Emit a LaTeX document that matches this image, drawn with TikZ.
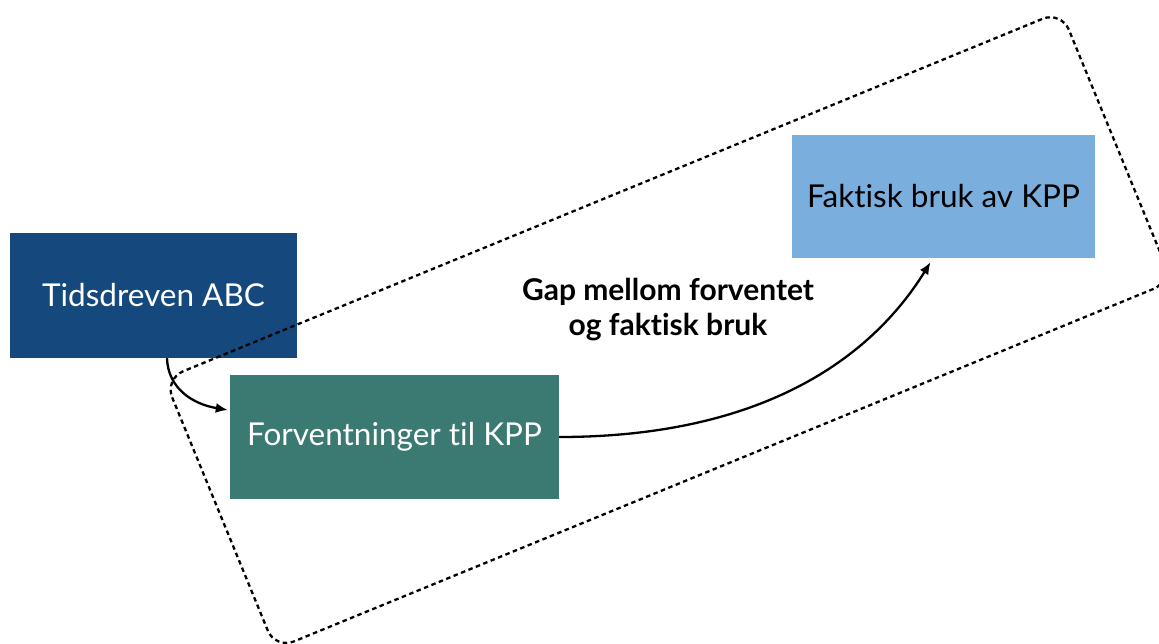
\documentclass[tikz,border=0pt]{standalone}
\usepackage{fontspec}
\setmainfont{Lato}[Ligatures=NoCommon]
\usetikzlibrary{arrows.meta,calc}
\definecolor{navy}{RGB}{21,72,124}
\definecolor{teal}{RGB}{58,122,115}
\definecolor{sky}{RGB}{121,174,221}
\tikzset{
  box/.style={draw=none, inner sep=0pt, align=center, font=\fontsize{31.5}{36}\selectfont},
  flow/.style={line width=2.3pt, -{Latex[length=12pt,width=10pt]}},
  zone/.style={line width=2.3pt, dash pattern=on 4.5pt off 3.5pt, rounded corners=20pt},
}
\begin{document}
\begin{tikzpicture}[x=1pt,y=-1pt]
  \useasboundingbox (0,0) rectangle (1159,643);
  \clip (0,0) rectangle (1159,643);

  % process boxes
  \node[box, fill=navy, text=white, minimum width=287pt, minimum height=125pt]
    (tids) at (153.5,295.5) {Tidsdreven ABC};
  \node[box, fill=teal, text=white, minimum width=329pt, minimum height=124pt]
    (forv) at (394.5,437) {Forventninger til KPP};
  \node[box, fill=sky, text=black, minimum width=303pt, minimum height=123pt]
    (fakt) at (943.5,196.5) {Faktisk bruk av KPP};

  % tilted dashed frame around the gap
  \draw[zone, rotate around={22.3:(668.3,330.1)}]
    (183.7,184.1) rectangle (1152.9,476.1);

  % gap label
  \node[align=center, font=\fontsize{30}{35}\selectfont\bfseries] (gap) at (668,310)
    {Gap mellom forventet\\og faktisk bruk};

  % connectors
  \coordinate (s1) at ($(tids.south)+(13.5,0)$);
  \coordinate (e1) at ($(forv.west)+(-2,-27)$);
  \draw[flow] (s1) .. controls (168,388) and (192,404) .. (e1);
  \coordinate (e2) at ($(fakt.south)+(-13,4)$);
  \draw[flow] (forv.east) .. controls (760,437) and (870,360) .. (e2);
\end{tikzpicture}
\end{document}
